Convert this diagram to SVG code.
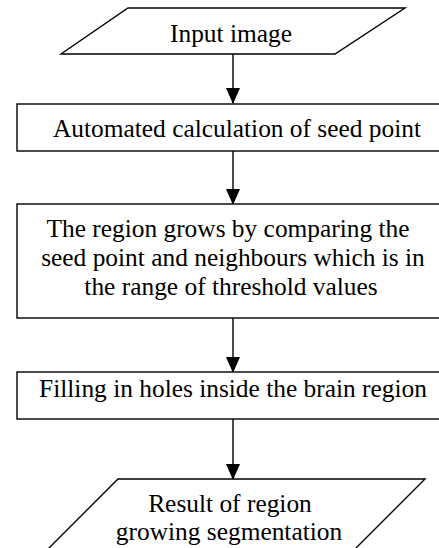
<svg xmlns="http://www.w3.org/2000/svg" width="439" height="548" viewBox="0 0 439 548">
<style>
.shape{fill:#fff;stroke:#000;stroke-width:1.4}
.conn{stroke:#000;stroke-width:1.4;fill:none}
.t{font-size:25.4px;fill:#000;text-anchor:middle}
</style>
<defs>
<marker id="arr" markerUnits="userSpaceOnUse" markerWidth="16" markerHeight="18" refX="15" refY="7" orient="auto" viewBox="0 0 16 14">
<path d="M0,0 L16,7 L0,14 Z" fill="#000"/>
</marker>
</defs>
<rect width="439" height="548" fill="#fff"/>
<g id="connectors">
<line class="conn" x1="233" y1="54" x2="233" y2="103" marker-end="url(#arr)"/>
<line class="conn" x1="233" y1="151" x2="233" y2="204" marker-end="url(#arr)"/>
<line class="conn" x1="233" y1="318" x2="233" y2="372" marker-end="url(#arr)"/>
<line class="conn" x1="233" y1="419" x2="233" y2="479" marker-end="url(#arr)"/>
</g>
<g font-family="Liberation Serif, Tinos, Times New Roman, DejaVu Serif, serif">
<g id="input">
<polygon class="shape" points="128,8 405,8 335,54 61,54"/>
<text class="t" x="231" y="42">Input image</text>
</g>
<g id="seed">
<rect class="shape" x="17" y="104" width="432" height="47"/>
<text class="t" x="237" y="137">Automated calculation of seed point</text>
</g>
<g id="grow">
<rect class="shape" x="17" y="204" width="432" height="114"/>
<text class="t" x="228" y="237">The region grows by comparing the</text>
<text class="t" x="233" y="266">seed point and neighbours which is in</text>
<text class="t" x="231" y="295">the range of threshold values</text>
</g>
<g id="fill">
<rect class="shape" x="17" y="372" width="432" height="47"/>
<text class="t" x="233" y="397">Filling in holes inside the brain region</text>
</g>
<g id="result">
<polygon class="shape" points="118,479 425,479 340,564 33,564"/>
<text class="t" x="230" y="512">Result of region</text>
<text class="t" x="229" y="540">growing segmentation</text>
</g>
</g>
</svg>
